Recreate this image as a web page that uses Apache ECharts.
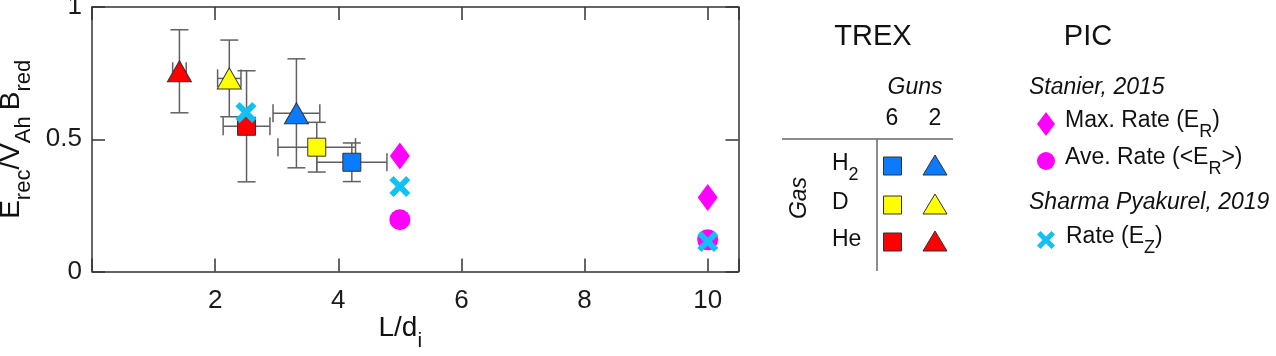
<!DOCTYPE html>
<html><head><meta charset="utf-8">
<script src="https://cdn.jsdelivr.net/npm/echarts@6/dist/echarts.min.js"></script>
<style>html,body{margin:0;padding:0;background:#fff}#c{width:1276px;height:356px}</style>
</head><body><div id="c"></div>
<script>
// ---- data ----
const gasNames = ['H', 'D', 'He'];
const gasSubs = ['2', '', ''];
const gunLabels = ['6', '2'];
const trex6X = [4.22, 3.65, 2.51];
const trex6Y = [0.413, 0.470, 0.549];
const trex6XErr = [0.57, 0.63, 0.38];
const trex6YErr = [0.073, 0.094, 0.21];
const trex2X = [3.32, 2.23, 1.42];
const trex2Y = [0.598, 0.73, 0.757];
const trex2XErr = [0.38, 0.19, 0.11];
const trex2YErr = [0.206, 0.145, 0.157];
const picX = [5, 10];
const stanierMax = [0.437, 0.28];
const stanierAve = [0.196, 0.12];
const sharmaX = [2.5, 5, 10];
const sharmaRate = [0.601, 0.321, 0.113];
const xTicks = [2, 4, 6, 8, 10];
const yTicks = [0, 0.5, 1];

// ---- styles ----
const FONT = '"Liberation Sans", Arial, Helvetica, sans-serif';
const gasColors = ['#0A7BFF', '#FFFF00', '#FF0000'];
const AX = '#333333';
const ERR = '#606060';
const MAG = '#FF00FF';
const CYAN = '#12C0F5';
const XPATH = 'path://M0,2 L2,0 L5,3 L8,0 L10,2 L7,5 L10,8 L8,10 L5,7 L2,10 L0,8 L3,5 Z';

const chart = echarts.init(document.getElementById('c'), null, {renderer: 'canvas'});

function errRender(params, api) {
  const x = api.value(0), y = api.value(1), ex = api.value(2), ey = api.value(3);
  const top = api.coord([x, y + ey]), bot = api.coord([x, y - ey]);
  const l = api.coord([x - ex, y]), r = api.coord([x + ex, y]);
  const h = 9;
  const st = {stroke: ERR, lineWidth: 1.5};
  const L = (x1, y1, x2, y2) => ({type: 'line', shape: {x1, y1, x2, y2}, style: st});
  return {type: 'group', children: [
    L(top[0], top[1], bot[0], bot[1]),
    L(top[0] - h, top[1], top[0] + h, top[1]),
    L(bot[0] - h, bot[1], bot[0] + h, bot[1]),
    L(l[0], l[1], r[0], r[1]),
    L(l[0], l[1] - h, l[0], l[1] + h),
    L(r[0], r[1] - h, r[0], r[1] + h)
  ]};
}

const err6 = trex6X.map((x, i) => [x, trex6Y[i], trex6XErr[i], trex6YErr[i]]);
const err2 = trex2X.map((x, i) => [x, trex2Y[i], trex2XErr[i], trex2YErr[i]]);
const pts6 = trex6X.map((x, i) => ({value: [x, trex6Y[i]], itemStyle: {color: gasColors[i]}}));
const pts2 = trex2X.map((x, i) => ({value: [x, trex2Y[i]], itemStyle: {color: gasColors[i]}}));

const axisLineStyle = {color: AX, width: 1.5};
const subRich = (fs, lh, pad) => ({fontSize: fs, lineHeight: lh, padding: [pad, 0, 0, 0], verticalAlign: 'middle', fontFamily: FONT, color: '#111'});

// ---- legend (graphic) ----
const G = [];
function txt(x, y, text, opt) {
  opt = opt || {};
  G.push({type: 'text', x: x, y: y, rotation: opt.rot || 0,
    style: {x: 0, y: 0, text: text, fontFamily: FONT, fontSize: opt.fs || 23,
      fontStyle: opt.italic ? 'italic' : 'normal', fill: '#111',
      align: opt.align || 'left', verticalAlign: 'middle',
      rich: opt.rich}});
}
const legRich = {m: {fontSize: 23, lineHeight: 28, verticalAlign: 'middle', fontFamily: FONT, color: '#111'},
                 s: subRich(18, 28, 22)};
txt(873, 37, 'TREX', {fs: 29, align: 'center'});
txt(1088, 37, 'PIC', {fs: 29, align: 'center'});
txt(915, 88, 'Guns', {italic: true, align: 'center'});
txt(892, 119, gunLabels[0], {align: 'center'});
txt(935, 119, gunLabels[1], {align: 'center'});
G.push({type: 'line', shape: {x1: 782, y1: 139, x2: 953, y2: 139}, style: {stroke: '#666', lineWidth: 1.5}});
G.push({type: 'line', shape: {x1: 877, y1: 139, x2: 877, y2: 271}, style: {stroke: '#666', lineWidth: 1.5}});
txt(800, 198, 'Gas', {italic: true, align: 'center', rot: Math.PI / 2});
const rowY = [164, 203, 240];
gasNames.forEach((g, i) => {
  const t = gasSubs[i] ? '{m|' + g + '}{s|' + gasSubs[i] + '}' : '{m|' + g + '}';
  txt(832, rowY[i], t, {rich: legRich});
  G.push({type: 'rect', shape: {x: 892.5 - 9, y: rowY[i] + 2 - 9, width: 18, height: 18},
    style: {fill: gasColors[i], stroke: '#333', lineWidth: 1}});
  G.push({type: 'polygon', shape: {points: [[935, rowY[i] + 2 - 11], [947, rowY[i] + 2 + 9], [923, rowY[i] + 2 + 9]]},
    style: {fill: gasColors[i], stroke: '#333', lineWidth: 1}});
});
txt(1029, 88, 'Stanier, 2015', {italic: true});
G.push({type: 'polygon', shape: {points: [[1046, 112], [1055, 124], [1046, 136], [1037, 124]]}, style: {fill: MAG}});
txt(1065, 121, '{m|Max. Rate (E}{s|R}{m|)}', {rich: legRich});
G.push({type: 'circle', shape: {cx: 1046, cy: 161, r: 9}, style: {fill: MAG}});
txt(1065, 158, '{m|Ave. Rate (<E}{s|R}{m|>)}', {rich: legRich});
txt(1029, 203, 'Sharma Pyakurel, 2019', {italic: true});
(function () {
  const cx = 1046, cy = 240, s = 18, a = s / 10;
  const P = [[0,2],[2,0],[5,3],[8,0],[10,2],[7,5],[10,8],[8,10],[5,7],[2,10],[0,8],[3,5]];
  G.push({type: 'polygon', shape: {points: P.map(p => [cx - s / 2 + p[0] * a, cy - s / 2 + p[1] * a])}, style: {fill: CYAN}});
})();
txt(1066, 237, '{m|Rate (E}{s|Z}{m|)}', {rich: legRich});

const option = {
  animation: false,
  backgroundColor: '#fff',
  textStyle: {fontFamily: FONT},
  grid: {left: 92, top: 7, width: 646.5, height: 264.5, containLabel: false, outerBoundsMode: 'none'},
  xAxis: [{
    type: 'value', min: 0, max: 10.5, interval: 2, position: 'bottom',
    axisLine: {show: true, onZero: false, lineStyle: axisLineStyle},
    axisTick: {show: true, inside: true, length: 13, lineStyle: axisLineStyle},
    splitLine: {show: false},
    axisLabel: {fontSize: 26, color: '#1a1a1a', margin: 16, fontFamily: FONT,
      formatter: v => xTicks.indexOf(v) >= 0 ? String(v) : ''},
    name: '{m|L/d}{s|i}', nameLocation: 'middle', nameGap: 40, nameMoveOverlap: false,
    nameTextStyle: {padding: [0, 30, 0, 0], rich: {
      m: {fontSize: 28, lineHeight: 34, verticalAlign: 'middle', fontFamily: FONT, color: '#111'},
      s: subRich(21, 34, 26)}}
  }, {
    type: 'value', min: 0, max: 10.5, interval: 2, position: 'top',
    axisLine: {show: true, onZero: false, lineStyle: axisLineStyle},
    axisTick: {show: true, inside: true, length: 13, lineStyle: axisLineStyle},
    splitLine: {show: false}, axisLabel: {show: false}
  }],
  yAxis: [{
    type: 'value', min: 0, max: 1, interval: 0.5, position: 'left',
    axisLine: {show: true, onZero: false, lineStyle: axisLineStyle},
    axisTick: {show: true, inside: true, length: 13, lineStyle: axisLineStyle},
    splitLine: {show: false},
    axisLabel: {fontSize: 26, color: '#1a1a1a', margin: 10, fontFamily: FONT,
      formatter: v => yTicks.indexOf(v) >= 0 ? String(v) : ''},
    name: '{m|E}{s|rec}{m|/V}{s|Ah }{m|B}{s|red}', nameLocation: 'middle', nameRotate: 90, nameGap: 62,
    nameTextStyle: {rich: {
      m: {fontSize: 28, lineHeight: 34, verticalAlign: 'middle', fontFamily: FONT, color: '#111'},
      s: subRich(22, 34, 26)}}
  }, {
    type: 'value', min: 0, max: 1, interval: 0.5, position: 'right',
    axisLine: {show: true, onZero: false, lineStyle: axisLineStyle},
    axisTick: {show: true, inside: true, length: 13, lineStyle: axisLineStyle},
    splitLine: {show: false}, axisLabel: {show: false}
  }],
  series: [
    {type: 'custom', name: 'err6', renderItem: errRender, data: err6, encode: {x: 0, y: 1}, z: 1, silent: true},
    {type: 'custom', name: 'err2', renderItem: errRender, data: err2, encode: {x: 0, y: 1}, z: 1, silent: true},
    {type: 'scatter', name: 'TREX 6 guns', symbol: 'rect', symbolSize: 18, data: pts6, z: 3,
      itemStyle: {borderColor: '#333', borderWidth: 1, opacity: 1}},
    {type: 'scatter', name: 'TREX 2 guns', symbol: 'triangle', symbolSize: [24, 21], data: pts2, z: 3,
      itemStyle: {borderColor: '#333', borderWidth: 1, opacity: 1}},
    {type: 'scatter', name: 'Max. Rate', symbol: 'diamond', symbolSize: [20, 27], z: 4,
      data: picX.map((x, i) => [x, stanierMax[i]]), itemStyle: {color: MAG, opacity: 1}},
    {type: 'scatter', name: 'Ave. Rate', symbol: 'circle', symbolSize: 21, z: 4,
      data: picX.map((x, i) => [x, stanierAve[i]]), itemStyle: {color: MAG, opacity: 1}},
    {type: 'scatter', name: 'Rate (EZ)', symbol: XPATH, symbolSize: 21, z: 5,
      data: sharmaX.map((x, i) => [x, sharmaRate[i]]), itemStyle: {color: CYAN, opacity: 1}}
  ],
  graphic: {elements: G}
};
chart.setOption(option);
</script></body></html>
